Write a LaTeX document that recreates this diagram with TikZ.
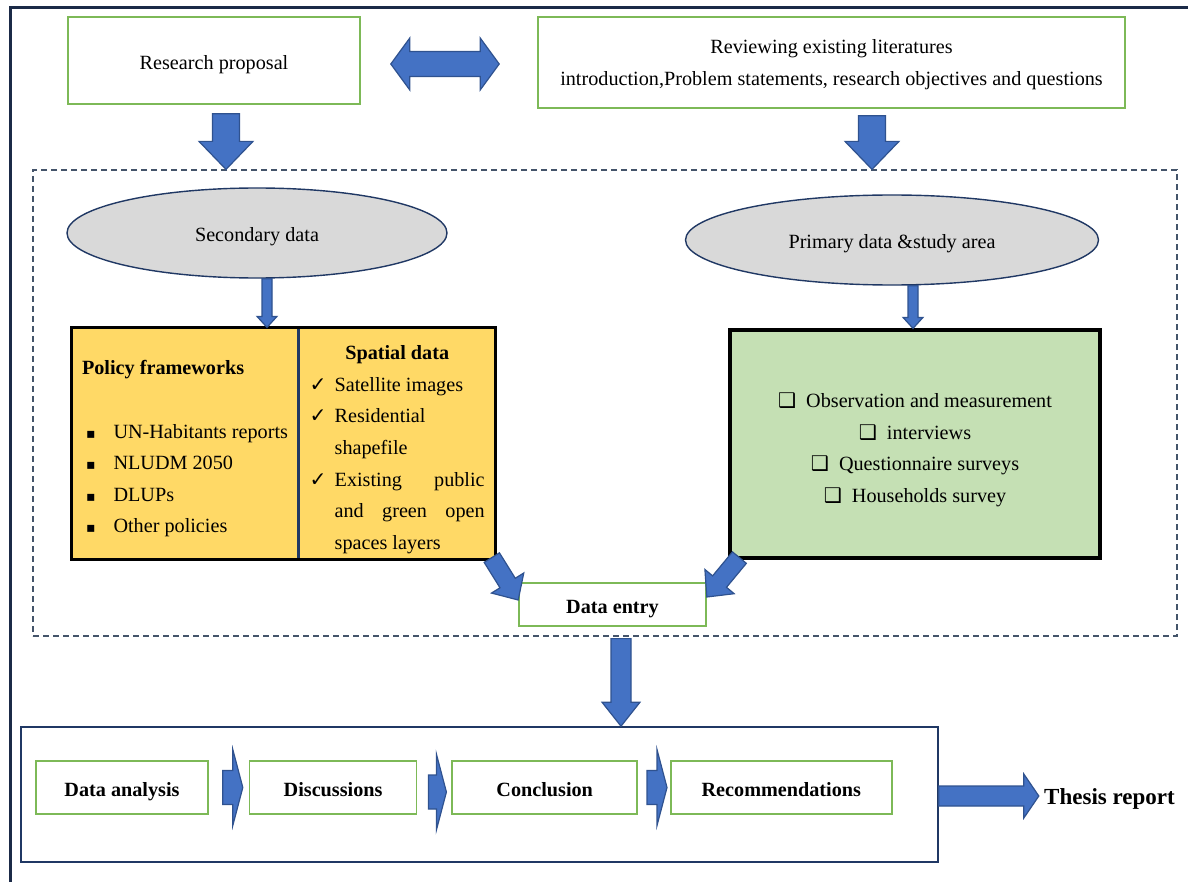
\documentclass[tikz,border=0pt]{standalone}
\usepackage{fontspec}
\setmainfont{Liberation Serif}
\newfontfamily\symf{DejaVu Sans}
\usetikzlibrary{shapes.geometric,calc,positioning}
\definecolor{arrblue}{HTML}{4472C4}
\definecolor{arrline}{HTML}{2F528F}
\definecolor{boxgreen}{HTML}{7DB957}
\definecolor{yel}{HTML}{FFD966}
\definecolor{gfill}{HTML}{C5E0B4}
\definecolor{ovalfill}{HTML}{D9D9D9}
\definecolor{navy}{HTML}{203864}
\definecolor{dashc}{HTML}{44546A}
\definecolor{framec}{HTML}{1B2A47}
\tikzset{
  txt/.style = {font=\fontsize{10.1}{15.8}\selectfont},
  one/.style = {text height=9pt, text depth=0pt},% single line, set a bit low
  gbox/.style = {txt, draw=boxgreen, line width=0.8pt, inner sep=0pt,
    align=center, text depth=0pt},% green framed box
  bx/.style = {gbox, one, font=\fontsize{10.1}{15.8}\selectfont\bfseries},
  oval/.style = {txt, one, ellipse, draw=navy, fill=ovalfill, line width=0.7pt,
    inner sep=0pt},
  ybox/.style = {txt, rectangle, fill=yel, draw=navy, line width=0.6pt,
    inner sep=0pt},
  shw/.code = {\def\blksw{#1}},% half shaft width
  hdw/.code = {\def\blkhw{#1}},% half head width
  hdl/.code = {\def\blkhl{#1}},% head length
  blk/.style = {draw=arrline, fill=arrblue, line width=0.6pt,
    to path={let \p1=($(\tikztotarget)!\blkhl!(\tikztostart)$) in
      ($(\tikztostart)!\blksw!90:(\tikztotarget)$)
      -- ($(\p1)!\blksw!90:(\tikztotarget)$)
      -- ($(\p1)!\blkhw!90:(\tikztotarget)$) -- (\tikztotarget)
      -- ($(\p1)!\blkhw!-90:(\tikztotarget)$)
      -- ($(\p1)!\blksw!-90:(\tikztotarget)$)
      -- ($(\tikztostart)!\blksw!-90:(\tikztotarget)$) -- cycle}},
  dblk/.style = {draw=arrline, fill=arrblue, line width=0.6pt,
    to path={let \p1=($(\tikztostart)!\blkhl!(\tikztotarget)$),
      \p2=($(\tikztotarget)!\blkhl!(\tikztostart)$) in
      (\tikztostart) -- ($(\p1)!\blkhw!90:(\tikztotarget)$)
      -- ($(\p1)!\blksw!90:(\tikztotarget)$)
      -- ($(\p2)!\blksw!-90:(\tikztostart)$)
      -- ($(\p2)!\blkhw!-90:(\tikztostart)$) -- (\tikztotarget)
      -- ($(\p2)!\blkhw!90:(\tikztostart)$)
      -- ($(\p2)!\blksw!90:(\tikztostart)$)
      -- ($(\p1)!\blksw!-90:(\tikztotarget)$)
      -- ($(\p1)!\blkhw!-90:(\tikztotarget)$) -- cycle}},
}
\begin{document}
\begin{tikzpicture}[x=0.5pt,y=-0.5pt]
\useasboundingbox (0,0) rectangle (1188,882);
\draw[framec, line width=1.5pt] (10,882) -- (10,8) -- (1188,8);

% top row
\node[gbox, one, minimum width=146pt, minimum height=43.5pt] (rp) at (214,60.5)
  {Research proposal};
\node[gbox, minimum width=293.5pt, minimum height=45.5pt] (rev) at (831.5,62.5)
  {Reviewing existing literatures\\
   introduction,Problem statements, research objectives and questions};
\coordinate (da1) at ([shift={(15pt,-1.75pt)}]rp.east);
\coordinate (da2) at ($(da1 -| rev.west)+(-19pt,0)$);
\draw[dblk, shw=6.25pt, hdw=13pt, hdl=9.5pt] (da1) to (da2);

% data collection group
\node[draw=dashc, dashed, dash pattern=on 3pt off 2pt, line width=0.6pt,
  minimum width=572pt, minimum height=233pt, inner sep=0pt] (grp) at (605,403) {};
\coordinate (a1) at ([shift={(6pt,-4.5pt)}]rp.south);
\coordinate (a1e) at (a1 |- grp.north);
\coordinate (a2) at ([shift={(20.25pt,-3.5pt)}]rev.south);
\coordinate (a2e) at (a2 |- grp.north);
\draw[blk, shw=6.75pt, hdw=13.5pt, hdl=14pt] (a1) to (a1e);
\draw[blk, shw=6.75pt, hdw=13.5pt, hdl=14pt] (a2) to (a2e);

\node[oval, minimum width=190pt, minimum height=45pt] (sec) at (257,233)
  {Secondary data};
\node[oval, minimum width=206.5pt, minimum height=45pt] (pri) at (892,240)
  {Primary data \&study area};

\node[ybox, minimum width=113pt, minimum height=115.5pt] (pol) at (185,443.5)
  {\raisebox{-2pt}[\height][\depth]{\begin{tabular}{@{}l@{\hspace{9pt}}l@{}}
   \multicolumn{2}{@{}l@{}}{\bfseries Policy frameworks}\\[15.8pt]
   \hspace{2pt}{\symf\scriptsize ▪} & UN-Habitants reports\\
   \hspace{2pt}{\symf\scriptsize ▪} & NLUDM 2050\\
   \hspace{2pt}{\symf\scriptsize ▪} & DLUPs\\
   \hspace{2pt}{\symf\scriptsize ▪} & Other policies
   \end{tabular}}};
\node[ybox, minimum width=98pt, minimum height=115.5pt, anchor=west] (spa)
  at (pol.east)
  {\raisebox{-2.3pt}[\height][\depth]{\begin{tabular}{@{}l@{\hspace{4pt}}p{75pt}@{}}
   \multicolumn{2}{@{}c@{}}{\bfseries Spatial data}\\
   {\symf ✓} & Satellite images\\
   {\symf ✓} & Residential\newline shapefile\\
   {\symf ✓} & \tolerance=9999 \hyphenpenalty=10000
     Existing public and green open spaces layers
   \end{tabular}}};
\draw[line width=1.6pt] (pol.north west) rectangle (spa.south east);

\node[txt, draw=black, line width=1.6pt, fill=gfill, inner sep=0pt,
  minimum width=185pt, minimum height=114pt] (pbox) at (915,444)
  {\raisebox{-2.3pt}[\height][\depth]{\begin{tabular}{@{}c@{}}
   {\symf ❑}\hspace{5pt}Observation and measurement\\
   {\symf ❑}\hspace{5pt}interviews\\
   {\symf ❑}\hspace{5pt}Questionnaire surveys\\
   {\symf ❑}\hspace{5pt}Households survey
   \end{tabular}}};

\coordinate (b1) at ([xshift=5pt]sec.south);
\coordinate (b1e) at (b1 |- pol.north);
\coordinate (b2) at ([xshift=10.5pt]pri.south);
\coordinate (b2e) at (b2 |- pbox.north);
\draw[blk, shw=2.5pt, hdw=5pt, hdl=5.5pt] (b1) to (b1e);
\draw[blk, shw=2.5pt, hdw=5pt, hdl=5.5pt] (b2) to (b2e);

\node[bx, minimum width=93.5pt, minimum height=21.5pt] (de) at (612.5,604.5)
  {Data entry};
\coordinate (l1) at ([shift={(-2pt,1pt)}]spa.south east);
\coordinate (l1e) at ([yshift=2.25pt]de.west);
\coordinate (r1) at ([shift={(5.5pt,1pt)}]pbox.south west);
\coordinate (r1e) at ([yshift=3.75pt]de.east);
\draw[blk, shw=4.5pt, hdw=9.5pt, hdl=10pt] (l1) to (l1e);
\draw[blk, shw=4.5pt, hdw=9.5pt, hdl=10pt] (r1) to (r1e);

% analysis and writing
\node[draw=navy, line width=0.8pt, minimum width=458.5pt, minimum height=67.5pt,
  inner sep=0pt] (fin) at (479.5,794.5) {};
\coordinate (d1) at ($(de.south |- grp.south)+(4.25pt,-1pt)$);
\coordinate (d1e) at (d1 |- fin.north);
\draw[blk, shw=5pt, hdw=9.5pt, hdl=12pt] (d1) to (d1e);

\node[bx, minimum width=86pt, minimum height=26.5pt] (dan) at (122,787.5)
  {Data analysis};
\node[bx, minimum width=83.5pt, minimum height=26.5pt, right=20pt of dan] (dis)
  {Discussions};
\node[bx, minimum width=92.5pt, minimum height=26.5pt, right=17pt of dis] (con)
  {Conclusion};
\node[bx, minimum width=110.5pt, minimum height=26.5pt, right=16pt of con] (rec)
  {Recommendations};
\coordinate (c1) at ([xshift=7pt]dan.east);
\coordinate (c1e) at ([xshift=-3pt]dis.west);
\coordinate (c2) at ([shift={(5.5pt,-2.25pt)}]dis.east);
\coordinate (c2e) at ($(c2 -| con.west)+(-2.5pt,0)$);
\coordinate (c3) at ([xshift=4.5pt]con.east);
\coordinate (c3e) at ([xshift=-1.5pt]rec.west);
\draw[blk, shw=8.5pt, hdw=19pt, hdl=5pt] (c1) to (c1e);
\draw[blk, shw=8.5pt, hdw=19pt, hdl=5pt] (c2) to (c2e);
\draw[blk, shw=8.5pt, hdw=19pt, hdl=5pt] (c3) to (c3e);

\node[font=\fontsize{11.5}{14}\selectfont\bfseries, anchor=west, inner sep=0pt]
  (thr) at ([shift={(52.5pt,-2.25pt)}]fin.east) {Thesis report};
\coordinate (t1) at ([yshift=-0.75pt]fin.east);
\coordinate (t1e) at ([shift={(-2.5pt,1.5pt)}]thr.west);
\draw[blk, shw=5pt, hdw=11pt, hdl=7.5pt] (t1) to (t1e);
\end{tikzpicture}
\end{document}
